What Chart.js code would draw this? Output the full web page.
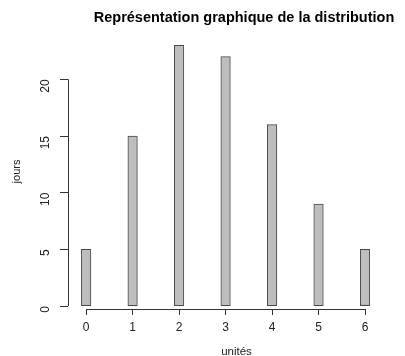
<!DOCTYPE html>
<html>
<head>
<meta charset="utf-8">
<script src="https://cdn.jsdelivr.net/npm/chart.js@4/dist/chart.umd.min.js"></script>
<style>
  html, body { margin: 0; padding: 0; background: #fff; }
  #wrap { width: 405px; height: 356px; }
</style>
</head>
<body>
<div id="wrap"><canvas id="c"></canvas></div>
<script>
// Distribution du nombre de jours par nombre d'unités
const units = [0, 1, 2, 3, 4, 5, 6];
const days = [5, 15, 23, 22, 16, 9, 5];
const yTickValues = [0, 5, 10, 15, 20];

const chartTitle = 'Représentation graphique de la distribution';
const xTitle = 'unités';
const yTitle = 'jours';

const FONT = '"Liberation Sans", Arial, sans-serif';

// Axis lines drawn only between the first and last tick, plus the main title
const rAxes = {
  id: 'rAxes',
  afterDraw(chart) {
    const { ctx, scales: { x, y }, chartArea } = chart;
    ctx.save();
    ctx.strokeStyle = '#333';
    ctx.lineWidth = 1;
    ctx.beginPath();
    const yb = Math.round(chartArea.bottom) + 0.5;
    ctx.moveTo(x.getPixelForValue(units[0]), yb);
    ctx.lineTo(x.getPixelForValue(units[units.length - 1]), yb);
    const xl = Math.round(chartArea.left) + 0.5;
    ctx.moveTo(xl, y.getPixelForValue(yTickValues[0]));
    ctx.lineTo(xl, y.getPixelForValue(yTickValues[yTickValues.length - 1]));
    ctx.stroke();

    ctx.fillStyle = '#000';
    ctx.font = 'bold 14.5px ' + FONT;
    ctx.textAlign = 'center';
    ctx.textBaseline = 'middle';
    ctx.fillText(chartTitle, 244, 18);
    ctx.restore();
  }
};

new Chart(document.getElementById('c'), {
  type: 'bar',
  data: {
    datasets: [{
      data: units.map((u, i) => ({ x: u, y: days[i] })),
      backgroundColor: '#bebebe',
      borderColor: '#4a4a4a',
      borderWidth: 1,
      borderSkipped: false,
      barThickness: 9.5
    }]
  },
  options: {
    responsive: true,
    maintainAspectRatio: false,
    animation: false,
    layout: { padding: { top: 34, right: 0, left: 0, bottom: 0 } },
    plugins: {
      legend: { display: false },
      tooltip: { enabled: false }
    },
    scales: {
      x: {
        type: 'linear',
        offset: false,
        min: -0.39,
        max: 6.86,
        afterBuildTicks: s => { s.ticks = units.map(v => ({ value: v })); },
        afterFit: s => { s.height = 47; },
        grid: { offset: false, drawOnChartArea: false, drawTicks: true, tickLength: 6, tickColor: '#333', lineWidth: 1 },
        border: { display: false },
        ticks: { color: '#222', font: { family: FONT, size: 12 }, padding: 5, maxRotation: 0, minRotation: 0 },
        title: { display: true, text: xTitle, color: '#222', font: { family: FONT, size: 11.5 }, padding: { top: 16, bottom: -3 } }
      },
      y: {
        min: -0.26,
        max: 24,
        afterBuildTicks: s => { s.ticks = yTickValues.map(v => ({ value: v })); },
        afterFit: s => { s.width = 68; },
        grid: { drawOnChartArea: false, drawTicks: true, tickLength: 8, tickColor: '#333', lineWidth: 1 },
        border: { display: false },
        ticks: { color: '#222', font: { family: FONT, size: 12 }, padding: 14, minRotation: 90, maxRotation: 90 },
        title: { display: true, text: yTitle, color: '#222', font: { family: FONT, size: 11 }, padding: { top: 10, bottom: 0 } }
      }
    }
  },
  plugins: [rAxes]
});
</script>
</body>
</html>
